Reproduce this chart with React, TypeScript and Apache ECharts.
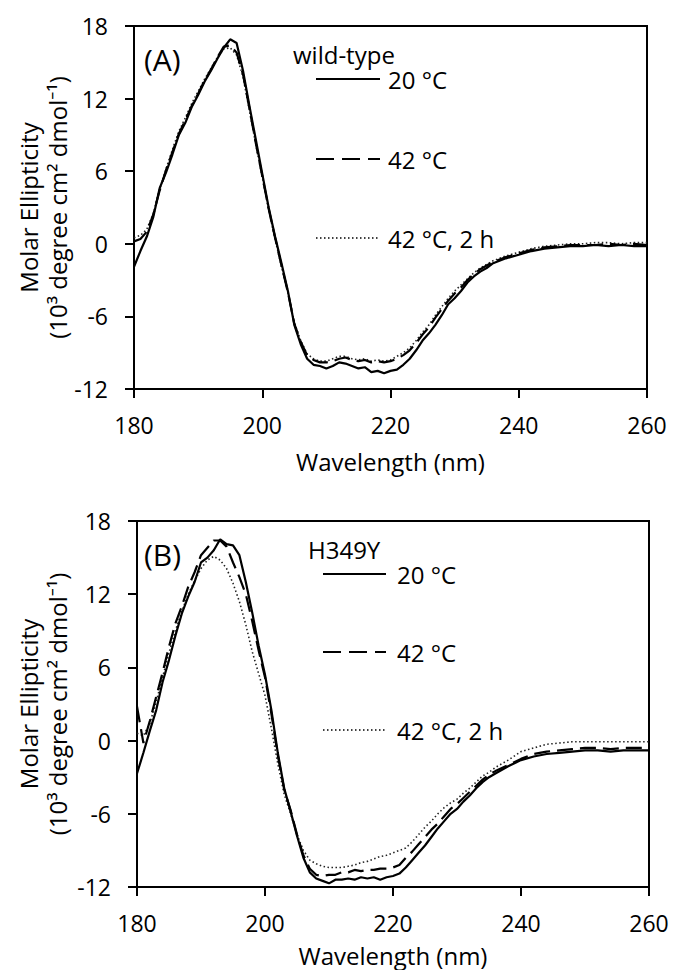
import React, { useEffect, useRef } from "react";
import * as echarts from "echarts";

// Wavelengths (nm)
const WL = [
  180, 181, 182, 183, 184, 185, 186, 187, 188, 189,
  190, 191, 192, 193, 194, 195, 196, 197, 198, 199,
  200, 201, 202, 203, 204, 205, 206, 207, 208, 209,
  210, 211, 212, 213, 214, 215, 216, 217, 218, 219,
  220, 221, 222, 223, 224, 225, 226, 227, 228, 229,
  230, 231, 232, 233, 234, 235, 236,
  238, 240, 242, 244, 246, 248, 250, 252, 254, 256, 258, 260,
];

// Panel A: wild-type
const A_20C = [
  -1.9, -0.6, 0.6, 2.2, 4.6, 5.9, 7.4, 9.0, 10.0, 11.3,
  12.3, 13.4, 14.3, 15.3, 16.2, 16.9, 16.6, 14.3, 11.4, 8.6,
  5.8, 3.0, 0.6, -1.6, -3.9, -6.7, -8.3, -9.5, -10.0, -10.1,
  -10.3, -10.1, -9.8, -9.9, -10.1, -10.3, -10.2, -10.6, -10.5, -10.7,
  -10.5, -10.4, -10.0, -9.5, -8.8, -8.0, -7.4, -6.7, -5.9, -5.0,
  -4.5, -3.9, -3.2, -2.7, -2.3, -2.0, -1.6,
  -1.2, -0.9, -0.6, -0.4, -0.3, -0.2, -0.2, -0.1, -0.2, -0.1, -0.2, -0.2,
];
const A_42C = [
  0.2, 0.4, 1.0, 2.4, 4.4, 6.1, 7.6, 9.1, 10.2, 11.4,
  12.4, 13.5, 14.4, 15.4, 16.3, 16.4, 15.8, 14.0, 11.2, 8.3,
  5.6, 2.9, 0.5, -1.8, -4.0, -6.6, -8.1, -9.2, -9.6, -9.8,
  -9.8, -9.7, -9.5, -9.4, -9.6, -9.7, -9.6, -9.8, -9.7, -9.8,
  -9.7, -9.5, -9.2, -8.8, -8.2, -7.5, -6.9, -6.1, -5.4, -4.7,
  -4.1, -3.6, -3.0, -2.5, -2.1, -1.8, -1.5,
  -1.1, -0.8, -0.5, -0.3, -0.2, -0.1, -0.1, -0.1, 0.0, -0.1, 0.0, -0.1,
];
const A_42C_2H = [
  0.5, 0.7, 1.2, 2.5, 4.5, 6.2, 7.8, 9.3, 10.4, 11.6,
  12.6, 13.6, 14.5, 15.4, 16.1, 16.2, 15.6, 13.8, 11.0, 8.2,
  5.5, 2.8, 0.4, -1.9, -4.0, -6.5, -8.0, -9.1, -9.5, -9.7,
  -9.7, -9.5, -9.3, -9.3, -9.5, -9.6, -9.5, -9.7, -9.6, -9.7,
  -9.6, -9.3, -9.0, -8.6, -8.0, -7.3, -6.7, -5.9, -5.2, -4.5,
  -3.9, -3.4, -2.9, -2.4, -2.0, -1.7, -1.4,
  -1.0, -0.7, -0.4, -0.2, -0.1, 0.0, 0.0, 0.1, 0.1, 0.0, 0.1, 0.1,
];

// Panel B: H349Y
const B_20C = [
  -2.7, -1.0, 0.8, 2.5, 4.8, 6.6, 8.6, 10.4, 11.8, 13.0,
  14.6, 15.0, 15.6, 16.5, 16.1, 16.0, 15.2, 13.0, 10.5, 7.8,
  5.4, 2.5, -1.0, -3.9, -5.8, -7.8, -9.6, -10.8, -11.3, -11.5,
  -11.7, -11.4, -11.4, -11.3, -11.4, -11.2, -11.3, -11.2, -11.4, -11.2,
  -11.1, -10.9, -10.4, -9.8, -9.2, -8.6, -7.9, -7.2, -6.6, -6.0,
  -5.6, -5.0, -4.5, -3.9, -3.4, -3.0, -2.7,
  -2.1, -1.6, -1.3, -1.1, -1.0, -0.9, -0.8, -0.8, -0.9, -0.8, -0.8, -0.8,
];
const B_42C = [
  2.8, -0.2, 1.6, 3.6, 5.6, 7.7, 9.6, 11.0, 12.6, 13.8,
  15.2, 15.8, 16.4, 16.4, 15.9, 14.6, 13.4, 12.0, 9.8, 7.4,
  5.2, 2.2, -1.2, -4.0, -5.7, -7.7, -9.4, -10.5, -11.0, -11.1,
  -11.0, -11.0, -10.8, -10.8, -10.6, -10.7, -10.6, -10.6, -10.5, -10.5,
  -10.4, -10.2, -9.6, -9.1, -8.5, -7.9, -7.3, -6.8, -6.2, -5.6,
  -5.2, -4.7, -4.2, -3.7, -3.2, -2.8, -2.5,
  -2.0, -1.5, -1.1, -0.9, -0.8, -0.7, -0.6, -0.6, -0.7, -0.6, -0.6, -0.6,
];
const B_42C_2H = [
  0.6, 0.4, 1.4, 3.2, 5.2, 7.2, 9.0, 10.6, 12.0, 13.1,
  14.1, 14.8, 15.1, 14.8, 14.1, 12.9, 11.4, 9.5, 7.3, 5.5,
  3.7, 1.0, -1.9, -4.4, -6.0, -7.7, -9.0, -9.8, -10.1, -10.3,
  -10.4, -10.4, -10.4, -10.3, -10.2, -10.0, -9.9, -9.7, -9.5, -9.4,
  -9.2, -9.0, -8.8, -8.3, -7.7, -7.1, -6.6, -6.0, -5.5, -5.1,
  -4.8, -4.3, -3.9, -3.4, -2.9, -2.6, -2.2,
  -1.6, -0.9, -0.6, -0.3, -0.2, -0.1, -0.1, -0.1, -0.1, -0.1, -0.1, -0.1,
];

const SERIES_NAMES = ["20 °C", "42 °C", "42 °C, 2 h"];
const PANEL_LABELS = ["(A)", "(B)"];
const PANEL_TITLES = ["wild-type", "H349Y"];
const X_TITLE = "Wavelength (nm)";
const Y_TITLE_1 = "Molar Ellipticity";
const Y_TITLE_2 = "(10³ degree cm² dmol⁻¹)";

const FONT = "'Open Sans', 'Noto Sans', 'DejaVu Sans', sans-serif";

const DASH = [16, 7];
const LEG_DASH = [18, 8];
const DOT = [1.5, 2.5];

export default function App() {
  const ref = useRef<HTMLDivElement>(null);

  useEffect(() => {
    if (!ref.current) return;
    const chart = echarts.init(ref.current, undefined, { renderer: "svg" });

    const grids = [
      { left: 134, top: 26, width: 513, height: 363 },
      { left: 137, top: 521, width: 512, height: 366 },
    ];
    const nameGaps = [60, 56];

    const panelData = [
      [A_20C, A_42C, A_42C_2H],
      [B_20C, B_42C, B_42C_2H],
    ];

    const styles = [
      { type: "solid", width: 2.2, color: "#000" },
      { type: DASH, width: 2.2, color: "#000" },
      { type: DOT, width: 1.6, color: "#222" },
    ];

    const series: any[] = [];
    panelData.forEach((sets, p) => {
      sets.forEach((vals, i) => {
        series.push({
          type: "line",
          name: SERIES_NAMES[i],
          xAxisIndex: p,
          yAxisIndex: p,
          symbol: "none",
          lineStyle: styles[i],
          data: WL.map((w, k) => [w, vals[k]]),
          z: 3 - i,
        });
      });
    });

    const legendPos = [
      { tx: 293, ty: 54, lx0: 316, lx1: 380, txtX: 388, ys: [79, 159, 238] },
      { tx: 308, ty: 549, lx0: 323, lx1: 386, txtX: 397, ys: [574, 652, 730] },
    ];

    const graphic: any[] = [];
    legendPos.forEach((lp, p) => {
      graphic.push({
        type: "text",
        x: lp.tx,
        y: lp.ty,
        style: { text: PANEL_TITLES[p], font: `24px ${FONT}`, fill: "#000", textAlign: "left", textVerticalAlign: "middle" },
      });
      lp.ys.forEach((y, i) => {
        graphic.push({
          type: "line",
          shape: { x1: lp.lx0, y1: y, x2: lp.lx1, y2: y },
          style: {
            stroke: "#000",
            lineWidth: i === 2 ? 1.6 : 2,
            lineDash: i === 0 ? null : i === 1 ? LEG_DASH : DOT,
          },
        });
        graphic.push({
          type: "text",
          x: lp.txtX,
          y,
          style: { text: SERIES_NAMES[i], font: `24px ${FONT}`, fill: "#000", textAlign: "left", textVerticalAlign: "middle" },
        });
      });
      const g = grids[p];
      graphic.push({
        type: "text",
        x: 144,
        y: g.top + 33,
        style: { text: PANEL_LABELS[p], font: `30px ${FONT}`, fill: "#000", textAlign: "left", textVerticalAlign: "middle" },
      });
      const cy = g.top + g.height / 2;
      graphic.push({
        type: "text",
        x: 28,
        y: cy,
        rotation: Math.PI / 2,
        style: { text: Y_TITLE_1, font: `24px ${FONT}`, fill: "#000", textAlign: "center", textVerticalAlign: "middle" },
      });
      graphic.push({
        type: "text",
        x: 57,
        y: cy,
        rotation: Math.PI / 2,
        style: { text: Y_TITLE_2, font: `24px ${FONT}`, fill: "#000", textAlign: "center", textVerticalAlign: "middle" },
      });
    });

    const option: any = {
      animation: false,
      backgroundColor: "#fff",
      textStyle: { fontFamily: FONT, color: "#000" },
      grid: grids.map((g) => ({
        ...g,
        show: true,
        borderColor: "#000",
        borderWidth: 2,
        backgroundColor: "transparent",
        containLabel: false,
      })),
      xAxis: grids.map((_, i) => ({
        type: "value",
        gridIndex: i,
        min: 180,
        max: 260,
        interval: 20,
        axisLine: { show: true, onZero: false, lineStyle: { color: "#000", width: 2 } },
        axisTick: { show: true, inside: false, length: 9, lineStyle: { color: "#000", width: 2 } },
        axisLabel: { color: "#000", fontSize: 23, margin: 24, fontFamily: FONT },
        splitLine: { show: false },
        name: X_TITLE,
        nameLocation: "middle",
        nameGap: nameGaps[i],
        nameTextStyle: { color: "#000", fontSize: 24, fontFamily: FONT },
      })),
      yAxis: grids.map((_, i) => ({
        type: "value",
        gridIndex: i,
        min: -12,
        max: 18,
        interval: 6,
        axisLine: { show: true, onZero: false, lineStyle: { color: "#000", width: 2 } },
        axisTick: { show: true, inside: false, length: 9, lineStyle: { color: "#000", width: 2 } },
        axisLabel: { color: "#000", fontSize: 23, margin: 26, fontFamily: FONT },
        splitLine: { show: false },
      })),
      series,
      graphic,
    };

    chart.setOption(option);
    return () => chart.dispose();
  }, []);

  return (
    <div
      ref={ref}
      style={{ position: "fixed", left: 0, top: 0, width: 673, height: 970, background: "#fff" }}
    />
  );
}
